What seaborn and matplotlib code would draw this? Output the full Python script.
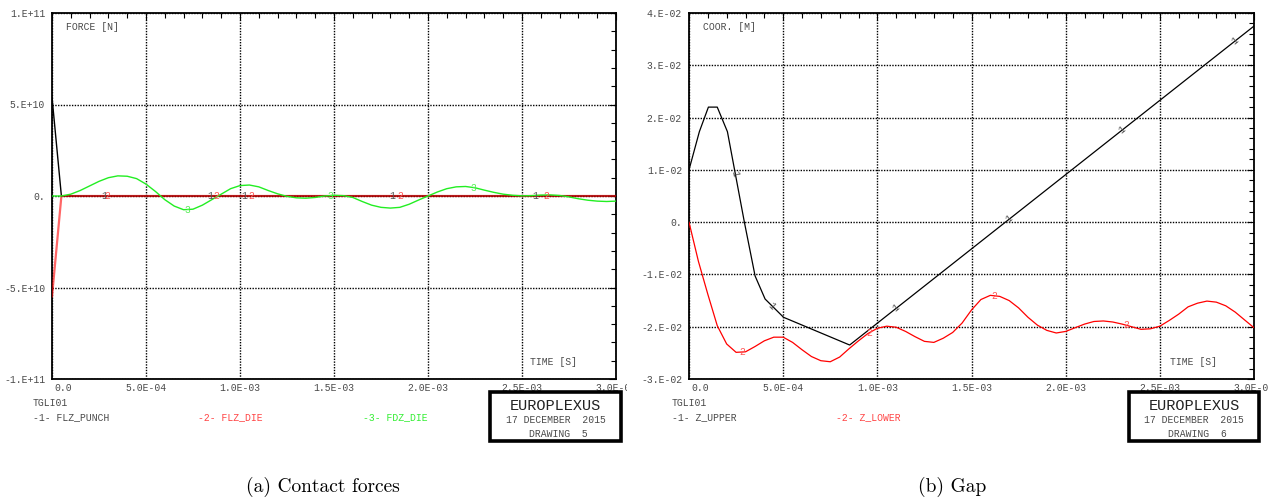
import matplotlib
matplotlib.use("Agg")
import numpy as np
import pandas as pd
import matplotlib.pyplot as plt
import matplotlib.transforms as mtransforms
from matplotlib.patches import Rectangle
from matplotlib.ticker import MultipleLocator
import seaborn as sns

# ---------------------------------------------------------------- data
# time axis (units of 1e-4 s)
TIME_E4 = [0.0, 0.5, 1.0, 1.5, 2.0, 2.5, 3.0, 3.5, 4.0, 4.5,
           5.0, 5.5, 6.0, 6.5, 7.0, 7.5, 8.0, 8.5, 9.0, 9.5,
           10.0, 10.5, 11.0, 11.5, 12.0, 12.5, 13.0, 13.5, 14.0, 14.5,
           15.0, 15.5, 16.0, 16.5, 17.0, 17.5, 18.0, 18.5, 19.0, 19.5,
           20.0, 20.5, 21.0, 21.5, 22.0, 22.5, 23.0, 23.5, 24.0, 24.5,
           25.0, 25.5, 26.0, 26.5, 27.0, 27.5, 28.0, 28.5, 29.0, 29.5,
           30.0]

# contact forces (units of 1e10 N)
PUNCH_T = [0.0, 0.5, 30.0]
FLZ_PUNCH = [5.4, 0.0, 0.0]
DIE_T = [0.0, 0.5, 30.0]
FLZ_DIE = [-5.5, 0.0, 0.0]
FDZ_DIE = [0.0, 0.0, 0.1, 0.3, 0.55, 0.8, 1.0, 1.1, 1.08, 0.95,
           0.65, 0.25, -0.2, -0.55, -0.75, -0.72, -0.5, -0.2, 0.1, 0.4,
           0.57, 0.6, 0.5, 0.3, 0.12, -0.02, -0.1, -0.12, -0.08, 0.0,
           0.04, 0.02, -0.08, -0.3, -0.5, -0.62, -0.66, -0.62, -0.45, -0.22,
           0.0, 0.22, 0.4, 0.5, 0.52, 0.45, 0.32, 0.2, 0.1, 0.04,
           0.01, 0.02, 0.05, 0.06, 0.03, -0.05, -0.15, -0.23, -0.28, -0.3,
           -0.28]

# gap coordinates (units of 1e-2 m)
UPPER_T = [0.0, 0.55, 1.03, 1.5, 2.04, 2.94, 3.51, 4.04, 5.02, 8.53, 30.0]
Z_UPPER = [1.0, 1.73, 2.2, 2.2, 1.73, 0.0, -1.03, -1.47, -1.82, -2.35, 3.75]
Z_LOWER = [0.0, -0.75, -1.38, -1.98, -2.33, -2.49, -2.48, -2.38, -2.27, -2.2,
           -2.2, -2.3, -2.44, -2.57, -2.65, -2.67, -2.58, -2.42, -2.27, -2.13,
           -2.03, -1.99, -2.01, -2.09, -2.19, -2.28, -2.3, -2.22, -2.11, -1.93,
           -1.68, -1.48, -1.40, -1.42, -1.5, -1.64, -1.82, -1.97, -2.07, -2.12,
           -2.09, -2.02, -1.95, -1.9, -1.89, -1.91, -1.95, -2.0, -2.05, -2.04,
           -1.99, -1.88, -1.76, -1.62, -1.55, -1.51, -1.53, -1.6, -1.72, -1.87,
           -2.02]

# curve-number tags along the curves (times in 1e-4 s)
TAG1_FORCE = [2.75, 8.4, 10.2, 18.1, 25.7]
TAG2_FORCE = [2.95, 8.75, 10.6, 18.5, 26.3]
TAG3_FORCE = [7.2, 14.8, 22.4]
TAG1_GAP = [2.45, 4.4, 11.0, 17.0, 23.0, 29.0]
TAG2_GAP = [2.85, 9.57, 16.2, 23.2]

# tick labels
X_TICKS = [0.0, 5e-4, 1e-3, 1.5e-3, 2e-3, 2.5e-3, 3e-3]
X_LABELS = ["0.0", "5.0E-04", "1.0E-03", "1.5E-03", "2.0E-03", "2.5E-03", "3.0E-03"]
F_TICKS = [-1e11, -5e10, 0.0, 5e10, 1e11]
F_LABELS = ["-1.E+11", "-5.E+10", "0.", "5.E+10", "1.E+11"]
G_TICKS = [-3e-2, -2e-2, -1e-2, 0.0, 1e-2, 2e-2, 3e-2, 4e-2]
G_LABELS = ["-3.E-02", "-2.E-02", "-1.E-02", "0.", "1.E-02", "2.E-02", "3.E-02", "4.E-02"]

# ---------------------------------------------------------------- style
sns.set_theme(style="white")
plt.rcParams["font.family"] = ["Liberation Mono", "DejaVu Sans Mono"]

W, H = 1273, 501
TXT = "#4a4a4a"
RED = "#ff0000"
GREEN = "#22ee22"

fig = plt.figure(figsize=(W / 100, H / 100), dpi=100)
fig.patch.set_facecolor("white")


def px_axes(x0, x1, y0, y1):
    return fig.add_axes([x0 / W, 1 - y1 / H, (x1 - x0) / W, (y1 - y0) / H])


ax1 = px_axes(52, 616, 13, 379)
ax2 = px_axes(689, 1254, 13, 379)

s = 1e-4
t_grid = np.array(TIME_E4) * s

# contact forces: the die curve is drawn translucent over the punch curve,
# so where both sit on zero the line turns dark red
sns.lineplot(x=np.array(PUNCH_T) * s, y=np.array(FLZ_PUNCH) * 1e10, ax=ax1,
             color="black", linewidth=1.0, zorder=3)
sns.lineplot(x=np.array(DIE_T) * s, y=np.array(FLZ_DIE) * 1e10, ax=ax1,
             color=RED, linewidth=1.6, alpha=0.6, zorder=4)
sns.lineplot(x=t_grid, y=np.array(FDZ_DIE) * 1e10, ax=ax1,
             color=GREEN, linewidth=1.0, zorder=5)

# gap
sns.lineplot(x=np.array(UPPER_T) * s, y=np.array(Z_UPPER) * 1e-2, ax=ax2,
             color="black", linewidth=0.9, zorder=3)
sns.lineplot(x=t_grid, y=np.array(Z_LOWER) * 1e-2, ax=ax2,
             color=RED, linewidth=0.9, zorder=4)


def style_axes(ax, yticks, ylabels, ylim, yminor):
    ax.set_xlim(0, 3e-3)
    ax.set_ylim(*ylim)
    ax.set_xticks(X_TICKS, X_LABELS)
    ax.set_yticks(yticks, ylabels)
    ax.xaxis.set_minor_locator(MultipleLocator(1e-4))
    ax.yaxis.set_minor_locator(MultipleLocator(yminor))
    ax.tick_params(which="both", direction="in", top=True, right=True,
                   color="black", width=0.8, labelcolor=TXT, labelsize=7)
    ax.tick_params(which="major", length=5)
    ax.tick_params(which="minor", length=3.5)
    ax.tick_params(axis="x", pad=3)
    ax.tick_params(axis="y", pad=5)
    ax.grid(True, which="major", color="black", linestyle=(0, (1, 1)),
            linewidth=1.0, zorder=1)
    ax.set_axisbelow(True)
    for sp in ax.spines.values():
        sp.set_visible(True)
        sp.set_color("black")
        sp.set_linewidth(1.3)
    ax.set_xlabel("")
    ax.set_ylabel("")
    # first time label sits to the right of the origin
    offset = mtransforms.ScaledTranslation(11 / 100, 0, fig.dpi_scale_trans)
    first = ax.get_xticklabels()[0]
    first.set_transform(first.get_transform() + offset)


style_axes(ax1, F_TICKS, F_LABELS, (-1e11, 1e11), 1e10)
style_axes(ax2, G_TICKS, G_LABELS, (-3e-2, 4e-2), 2e-3)

# the last time label of each plot is cut at the panel border
last = ax1.get_xticklabels()[-1]
last.set_clip_on(True)
last.set_clip_box(mtransforms.Bbox.from_extents(0, 0, 627, H))
last2 = ax2.get_xticklabels()[-1]
last2.set_clip_on(True)
last2.set_clip_box(mtransforms.Bbox.from_extents(640, 0, 1268, H))

# axis captions inside the frames
ax1.text(0.025, 0.962, "FORCE [N]", transform=ax1.transAxes, color=TXT,
         fontsize=7, va="center", ha="left")
ax1.text(0.848, 0.046, "TIME [S]", transform=ax1.transAxes, color=TXT,
         fontsize=7, va="center", ha="left")
ax2.text(0.025, 0.962, "COOR. [M]", transform=ax2.transAxes, color=TXT,
         fontsize=7, va="center", ha="left")
ax2.text(0.851, 0.046, "TIME [S]", transform=ax2.transAxes, color=TXT,
         fontsize=7, va="center", ha="left")


def tag_curve(ax, tx, ty, where, label, color, along=False):
    tx = np.asarray(tx)
    ty = np.asarray(ty)
    for w in where:
        x = w * s
        y = np.interp(x, tx, ty)
        rot = 0.0
        if along:
            dx = 0.2 * s
            p0 = ax.transData.transform((x - dx, np.interp(x - dx, tx, ty)))
            p1 = ax.transData.transform((x + dx, np.interp(x + dx, tx, ty)))
            rot = np.degrees(np.arctan2(p1[1] - p0[1], p1[0] - p0[0]))
        ax.text(x, y, label, color=color, fontsize=7, ha="center",
                va="center", rotation=rot, rotation_mode="anchor", zorder=6)


tag_curve(ax1, np.array(PUNCH_T) * s, np.array(FLZ_PUNCH) * 1e10, TAG1_FORCE, "1", "#555555")
tag_curve(ax1, np.array(DIE_T) * s, np.array(FLZ_DIE) * 1e10, TAG2_FORCE, "2", "#ff5555")
tag_curve(ax1, t_grid, np.array(FDZ_DIE) * 1e10, TAG3_FORCE, "3", "#55ee55")
tag_curve(ax2, np.array(UPPER_T) * s, np.array(Z_UPPER) * 1e-2, TAG1_GAP, "1", "#555555", along=True)
tag_curve(ax2, t_grid, np.array(Z_LOWER) * 1e-2, TAG2_GAP, "2", "#ff5555")


def ftext(xp, yp, txt, **kw):
    kw.setdefault("fontsize", 7)
    kw.setdefault("va", "center")
    kw.setdefault("ha", "left")
    fig.text(xp / W, 1 - yp / H, txt, **kw)


# curve legends under the plots
ftext(33, 403, "TGLI01", color=TXT)
ftext(33, 417, "-1- FLZ_PUNCH", color=TXT)
ftext(198, 417, "-2- FLZ_DIE", color="#ff4444")
ftext(363, 417, "-3- FDZ_DIE", color="#33ee33")

ftext(672, 403, "TGLI01", color=TXT)
ftext(672, 417, "-1- Z_UPPER", color=TXT)
ftext(836, 417, "-2- Z_LOWER", color="#ff4444")


def stamp(x0, x1, drawing):
    y0, y1 = 392, 441
    fig.add_artist(Rectangle((x0 / W, 1 - y1 / H), (x1 - x0) / W, (y1 - y0) / H,
                             transform=fig.transFigure, fill=False,
                             edgecolor="black", linewidth=2.6))
    xc = (x0 + x1) / 2
    ftext(xc, 406, "EUROPLEXUS", color="#222222", fontsize=11, ha="center")
    ftext(xc, 420, "17 DECEMBER  2015", color=TXT, ha="center")
    ftext(xc + 3, 434, "DRAWING  " + drawing, color=TXT, ha="center")


stamp(490, 621, "5")
stamp(1129, 1259, "6")

# sub-figure captions
fig.text(323 / W, 1 - 487 / H, "(a) Contact forces", family="cmr10",
         fontsize=14, ha="center", va="center", color="black")
fig.text(952 / W, 1 - 487 / H, "(b) Gap", family="cmr10",
         fontsize=14, ha="center", va="center", color="black")

fig.savefig("out.png", dpi=100, facecolor="white")
